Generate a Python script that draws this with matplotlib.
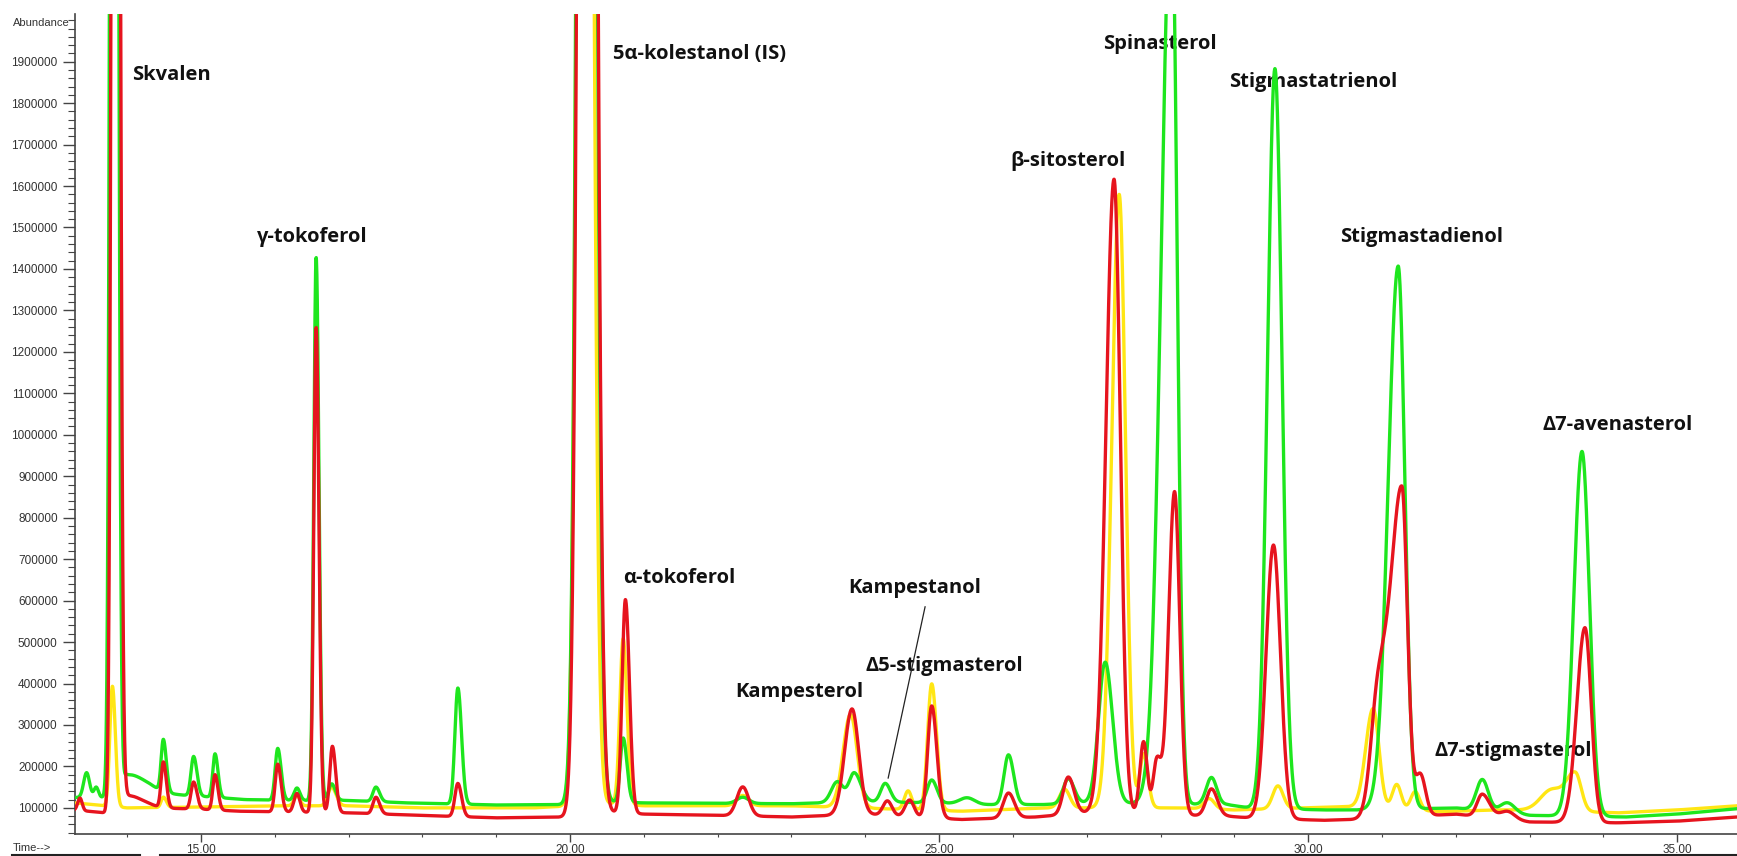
import matplotlib

matplotlib.use("Agg")
import matplotlib.pyplot as plt
import numpy as np
from matplotlib.lines import Line2D
from matplotlib.ticker import FixedLocator, FuncFormatter, MultipleLocator

# retention time (min), abundance - baseline points
GREEN_BASE = [
    (13.29, 125000), (13.7, 125000), (14.3, 135000), (15.0, 128000), (15.6, 120000),
    (16.2, 118000), (17.0, 118000), (17.8, 112000), (19.0, 107000), (20.0, 108000),
    (20.5, 115000), (21.0, 112000), (23.0, 110000), (24.0, 115000), (25.0, 112000),
    (25.6, 108000), (26.4, 108000), (27.0, 112000), (28.9, 108000), (29.2, 100000),
    (30.2, 95000), (30.7, 95000), (32.0, 100000), (33.0, 82000), (34.3, 78000),
    (35.0, 85000), (35.81, 98000),
]
RED_BASE = [
    (13.29, 95000), (13.7, 88000), (14.3, 100000), (15.0, 97000), (15.5, 92000),
    (16.2, 90000), (17.0, 88000), (17.8, 83000), (19.0, 76000), (20.0, 78000),
    (20.5, 90000), (21.0, 85000), (22.0, 82000), (23.0, 78000), (24.0, 85000),
    (25.3, 72000), (26.3, 78000), (27.0, 88000), (28.9, 80000), (29.2, 76000),
    (30.2, 70000), (30.6, 72000), (32.0, 85000), (33.0, 66000), (34.2, 64000),
    (35.0, 68000), (35.81, 78000),
]
YELLOW_BASE = [
    (13.29, 112000), (14.0, 100000), (15.0, 102000), (16.0, 105000), (17.0, 105000),
    (18.0, 100000), (19.5, 100000), (20.6, 110000), (21.0, 105000), (23.0, 105000),
    (25.3, 92000), (26.5, 100000), (28.3, 100000), (29.0, 95000), (30.5, 103000),
    (31.8, 91000), (32.5, 95000), (33.0, 95000), (34.2, 88000), (35.0, 95000),
    (35.81, 105000),
]

# peaks: retention time, height above baseline, left width, right width
GREEN_PEAKS = [
    (13.45, 60000, 0.04, 0.04), (13.58, 25000, 0.03, 0.03),
    (13.82, 7.0e6, 0.038, 0.042), (14.0, 50000, 0.05, 0.25),
    (14.49, 125000, 0.03, 0.04), (14.9, 95000, 0.035, 0.045),
    (15.19, 105000, 0.03, 0.04), (16.04, 125000, 0.035, 0.045),
    (16.3, 30000, 0.04, 0.04), (16.56, 1.31e6, 0.032, 0.038),
    (16.77, 40000, 0.04, 0.05), (17.37, 35000, 0.04, 0.05),
    (18.48, 280000, 0.04, 0.05), (20.22, 8.2e6, 0.085, 0.09),
    (20.72, 155000, 0.04, 0.05), (22.34, 15000, 0.08, 0.08),
    (23.62, 50000, 0.08, 0.08), (23.85, 70000, 0.07, 0.09),
    (24.27, 45000, 0.06, 0.07), (24.9, 55000, 0.06, 0.07),
    (25.38, 15000, 0.1, 0.1), (25.94, 120000, 0.06, 0.07),
    (26.75, 60000, 0.07, 0.08), (27.25, 340000, 0.09, 0.1),
    (28.15, 2.2e6, 0.14, 0.075), (28.69, 65000, 0.07, 0.07),
    (29.55, 1.785e6, 0.1, 0.095), (31.22, 1.31e6, 0.135, 0.09),
    (32.36, 75000, 0.08, 0.08), (32.7, 25000, 0.1, 0.1),
    (33.71, 880000, 0.11, 0.1),
]
RED_PEAKS = [
    (13.36, 30000, 0.03, 0.03), (13.84, 7.0e6, 0.038, 0.045),
    (14.0, 35000, 0.05, 0.2), (14.49, 110000, 0.03, 0.04),
    (14.9, 65000, 0.035, 0.045), (15.19, 85000, 0.03, 0.04),
    (16.04, 115000, 0.035, 0.045), (16.3, 45000, 0.04, 0.04),
    (16.56, 1.17e6, 0.032, 0.038), (16.78, 160000, 0.035, 0.045),
    (17.37, 40000, 0.04, 0.05), (18.48, 80000, 0.04, 0.05),
    (20.23, 8.2e6, 0.085, 0.09), (20.75, 515000, 0.045, 0.055),
    (22.34, 70000, 0.08, 0.08), (23.82, 255000, 0.1, 0.09),
    (24.3, 35000, 0.06, 0.06), (24.6, 40000, 0.06, 0.06),
    (24.9, 270000, 0.055, 0.07), (25.94, 60000, 0.07, 0.08),
    (26.75, 90000, 0.07, 0.08), (27.37, 1.53e6, 0.11, 0.085),
    (27.77, 175000, 0.05, 0.05), (27.95, 130000, 0.05, 0.06),
    (28.19, 780000, 0.08, 0.07), (28.69, 65000, 0.07, 0.08),
    (29.53, 660000, 0.1, 0.095), (30.95, 280000, 0.1, 0.12),
    (31.27, 790000, 0.15, 0.075), (31.52, 100000, 0.07, 0.07),
    (32.36, 55000, 0.07, 0.1), (32.7, 20000, 0.1, 0.1),
    (33.75, 470000, 0.11, 0.085),
]
YELLOW_PEAKS = [
    (13.8, 290000, 0.035, 0.04), (14.49, 25000, 0.03, 0.04),
    (16.3, 25000, 0.04, 0.04), (16.77, 45000, 0.05, 0.06),
    (20.2, 6.0e6, 0.08, 0.085), (20.72, 400000, 0.045, 0.05),
    (22.34, 25000, 0.08, 0.08), (23.8, 225000, 0.1, 0.09),
    (24.58, 45000, 0.05, 0.05), (24.9, 305000, 0.055, 0.065),
    (26.7, 45000, 0.07, 0.07), (27.44, 1.48e6, 0.1, 0.085),
    (27.77, 130000, 0.05, 0.06), (28.66, 25000, 0.07, 0.07),
    (29.59, 55000, 0.07, 0.07), (30.88, 240000, 0.1, 0.08),
    (31.2, 60000, 0.06, 0.06), (31.45, 45000, 0.06, 0.06),
    (33.3, 50000, 0.15, 0.15), (33.62, 90000, 0.12, 0.08),
]

# compound labels: text, time of left edge, abundance at text centre
LABELS = [
    ("Skvalen", 14.07, 1868000),
    ("γ-tokoferol", 15.76, 1477000),
    ("5α-kolestanol (IS)", 20.58, 1919000),
    ("α-tokoferol", 20.72, 655000),
    ("Kampesterol", 22.24, 380000),
    ("Kampestanol", 23.77, 631000),
    ("Δ5-stigmasterol", 24.0, 442000),
    ("β-sitosterol", 25.96, 1661000),
    ("Spinasterol", 27.22, 1943000),
    ("Stigmastatrienol", 28.93, 1851000),
    ("Stigmastadienol", 30.43, 1477000),
    ("Δ7-avenasterol", 33.17, 1024000),
    ("Δ7-stigmasterol", 31.71, 237000),
]
KAMPESTANOL_POINTER = [(24.81, 585000), (24.31, 172000)]

X_MIN, X_MAX = 13.293, 35.81
Y_MIN, Y_MAX = 37000, 2015000


def trace(t, base, peaks):
    bt, bv = zip(*base)
    y = np.interp(t, bt, bv)
    for rt, height, sl, sr in peaks:
        s = np.where(t < rt, sl, sr)
        y = y + height * np.exp(-0.5 * ((t - rt) / s) ** 2)
    return y


t = np.linspace(X_MIN, X_MAX, 8000)

W, H = 1737, 856
fig = plt.figure(figsize=(W / 100, H / 100), dpi=100)
ax = fig.add_axes([75 / W, (H - 834) / H, 1 - 75 / W, (834 - 14) / H])

ax.plot(t, trace(t, YELLOW_BASE, YELLOW_PEAKS), color="#ffe614", lw=2.4, zorder=3)
ax.plot(t, trace(t, GREEN_BASE, GREEN_PEAKS), color="#1ee61e", lw=2.4, zorder=4)
ax.plot(t, trace(t, RED_BASE, RED_PEAKS), color="#e6141e", lw=2.4, zorder=5)

for text, x, y in LABELS:
    ax.text(x, y, text, ha="left", va="center", fontsize=14.5, fontweight="bold",
            family="Open Sans", color="#111111", zorder=2)
(px0, py0), (px1, py1) = KAMPESTANOL_POINTER
ax.plot([px0, px1], [py0, py1], color="#222222", lw=0.9, zorder=2)

ax.set_xlim(X_MIN, X_MAX)
ax.set_ylim(Y_MIN, Y_MAX)
for side in ("top", "right"):
    ax.spines[side].set_visible(False)
for side in ("left", "bottom"):
    ax.spines[side].set_color("#444444")
    ax.spines[side].set_linewidth(1.2)

ax.yaxis.set_major_locator(FixedLocator(np.arange(100000, 2000000, 100000)))
ax.yaxis.set_minor_locator(MultipleLocator(20000))
ax.yaxis.set_major_formatter(FuncFormatter(lambda v, _: f"{v:.0f}"))
ax.xaxis.set_major_locator(MultipleLocator(5))
ax.xaxis.set_minor_locator(MultipleLocator(1))
ax.xaxis.set_major_formatter(FuncFormatter(lambda v, _: f"{v:.2f}"))

ax.tick_params(axis="y", which="major", length=9, width=1, pad=3.5, colors="#444444",
               labelsize=8.5, labelcolor="#333333")
ax.tick_params(axis="y", which="minor", length=5, width=0.8, colors="#444444")
ax.tick_params(axis="x", which="major", length=6, width=1, pad=1, colors="#444444",
               labelsize=8.5, labelcolor="#333333")
ax.tick_params(axis="x", which="minor", length=2.5, width=0.8, colors="#444444")
for lab in ax.get_xticklabels() + ax.get_yticklabels():
    lab.set_family("Liberation Sans")

fig.text(13 / W, 1 - 23 / H, "Abundance", fontsize=8, family="Liberation Sans",
         color="#333333", ha="left", va="center")
fig.text(13 / W, 1 - 848 / H, "Time-->", fontsize=8, family="Liberation Sans",
         color="#333333", ha="left", va="center")

# dark rule along the bottom edge of the screenshot
yb = 1 - 854.5 / H
fig.add_artist(Line2D([12 / W, 140 / W], [yb, yb], color="#222222", lw=1.5))
fig.add_artist(Line2D([160 / W, 1.0], [yb, yb], color="#222222", lw=1.5))

fig.savefig("out.png", dpi=100, facecolor="white")
